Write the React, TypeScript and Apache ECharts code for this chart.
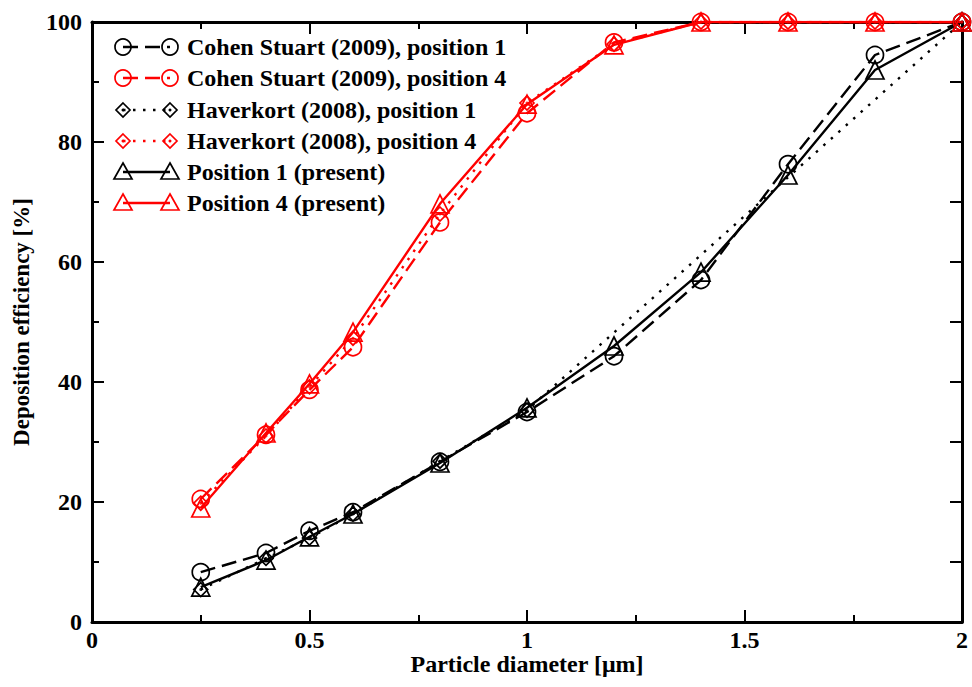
import React, { useEffect, useRef } from "react";
import * as echarts from "echarts";

const diam = [0.25, 0.4, 0.5, 0.6, 0.8, 1.0, 1.2, 1.4, 1.6, 1.8, 2.0];
const cohen1 = [8.3, 11.5, 15.2, 18.3, 26.7, 35.0, 44.3, 57.0, 76.3, 94.5, 100];
const cohen4 = [20.5, 31.2, 38.7, 45.8, 66.6, 84.8, 96.6, 100, 100, 100, 100];
const haverDiam1 = [0.25, 0.4, 0.5, 0.6, 0.8, 1.0, 2.0];
const haver1 = [5.4, 10.6, 14.0, 18.0, 26.8, 35.3, 100];
const haverDiam4 = [0.25, 0.4, 0.5, 0.6, 0.8, 1.0, 1.2, 1.4, 1.6, 1.8, 2.0];
const haver4 = [19.8, 31.0, 39.2, 47.3, 68.0, 86.5, 96.3, 100, 100, 100, 100];
const present1 = [5.8, 10.3, 14.2, 18.0, 26.5, 35.7, 46.0, 58.3, 74.5, 92.0, 100];
const present4 = [19.0, 31.5, 39.7, 48.3, 69.7, 86.3, 96.2, 100, 100, 100, 100];

const legendNames = [
  "Cohen Stuart (2009), position 1",
  "Cohen Stuart (2009), position 4",
  "Haverkort (2008), position 1",
  "Haverkort (2008), position 4",
  "Position 1 (present)",
  "Position 4 (present)",
];
const xTicks = ["0", "0.5", "1", "1.5", "2"];

const FONT = '"Liberation Serif", "Times New Roman", serif';
const RED = "#ff0000";
const BLACK = "#000000";
const DASH = [15, 7];
const DOT = [2.5, 7.5];
const LW = 2.4;

function pairs(xs: number[], ys: number[]) {
  return xs.map((x, i) => [x, ys[i]]);
}

export default function App() {
  const ref = useRef<HTMLDivElement>(null);
  useEffect(() => {
    if (!ref.current) return;
    const chart = echarts.init(ref.current, null, { renderer: "svg" });

    const lineSeries = (
      name: string,
      data: number[][],
      color: string,
      dash: any,
      symbol: string,
      size: number
    ) => ({
      name,
      type: "line",
      data,
      symbol,
      symbolSize: size,
      showSymbol: true,
      lineStyle: { color, width: LW, type: dash },
      itemStyle: { color: "rgba(0,0,0,0)", borderColor: color, borderWidth: 1.7 },
      emphasis: { disabled: true },
      z: 3,
    });

    const dotSeries = (data: number[][], color: string) => ({
      type: "scatter",
      data,
      symbol: "circle",
      symbolSize: 3,
      itemStyle: { color },
      silent: true,
      z: 4,
    });

    const styles = [
      { color: BLACK, dash: DASH, mk: "circle" },
      { color: RED, dash: DASH, mk: "circle" },
      { color: BLACK, dash: DOT, mk: "diamond" },
      { color: RED, dash: DOT, mk: "diamond" },
      { color: BLACK, dash: null, mk: "triangle" },
      { color: RED, dash: null, mk: "triangle" },
    ];
    const rows = [47, 78, 110, 141, 172, 203];
    const lx1 = 123;
    const lx2 = 170;
    const graphics: any[] = [];
    const marker = (mk: string, cx: number, cy: number, color: string) => {
      if (mk === "circle") {
        return [{ type: "circle", shape: { cx, cy, r: 8 }, style: { fill: "none", stroke: color, lineWidth: 1.7 } }];
      }
      if (mk === "diamond") {
        return [
          { type: "polygon", shape: { points: [[cx, cy - 7], [cx + 7, cy], [cx, cy + 7], [cx - 7, cy]] }, style: { fill: "none", stroke: color, lineWidth: 1.7 } },
          { type: "circle", shape: { cx, cy, r: 1.5 }, style: { fill: color } },
        ];
      }
      return [{ type: "polygon", shape: { points: [[cx, cy - 9], [cx + 9, cy + 7], [cx - 9, cy + 7]] }, style: { fill: "none", stroke: color, lineWidth: 1.7 } }];
    };
    styles.forEach((s, i) => {
      const y = rows[i];
      graphics.push({
        type: "line",
        shape: { x1: lx1, y1: y, x2: lx2, y2: y },
        style: { stroke: s.color, lineWidth: LW, lineDash: s.dash || undefined },
      });
      graphics.push(...marker(s.mk, lx1, y, s.color));
      graphics.push(...marker(s.mk, lx2, y, s.color));
      graphics.push({
        type: "text",
        x: 187,
        y,
        style: {
          text: legendNames[i],
          font: `bold 24px ${FONT}`,
          fill: "#000",
          verticalAlign: "middle",
        },
      });
    });

    const axisCommon = {
      min: 0,
      axisLine: { show: true, onZero: false, lineStyle: { color: "#000", width: 3 } },
      splitLine: { show: false },
    };

    chart.setOption({
      animation: false,
      backgroundColor: "#fff",
      grid: { left: 92, right: 10, top: 22, bottom: 65, containLabel: false, outerBoundsMode: "none" },
      xAxis: [
        {
          ...axisCommon,
          type: "value",
          max: 2,
          interval: 0.5,
          position: "bottom",
          name: "Particle diameter [μm]",
          nameLocation: "middle",
          nameGap: 30,
          nameMoveOverlap: false,
          nameTextStyle: { fontFamily: FONT, fontWeight: "bold", fontSize: 24, color: "#000", verticalAlign: "top" },
          axisTick: { inside: true, length: 12, lineStyle: { width: 2, color: "#000" } },
          minorTick: { show: true, splitNumber: 2, length: 7, lineStyle: { width: 2, color: "#000" } },
          minorSplitLine: { show: false },
          axisLabel: {
            fontFamily: FONT,
            fontWeight: "bold",
            fontSize: 24,
            color: "#000",
            margin: 6,
            hideOverlap: false,
            showMaxLabel: true,
            alignMaxLabel: "center",
            formatter: (v: number) => xTicks[Math.round(v / 0.5)] ?? String(v),
          },
        },
        {
          ...axisCommon,
          type: "value",
          max: 2,
          interval: 0.5,
          position: "top",
          axisTick: { inside: true, length: 12, lineStyle: { width: 2, color: "#000" } },
          minorTick: { show: true, splitNumber: 2, length: 7, lineStyle: { width: 2, color: "#000" } },
          axisLabel: { show: false },
        },
      ],
      yAxis: [
        {
          ...axisCommon,
          type: "value",
          max: 100,
          interval: 20,
          position: "left",
          name: "Deposition efficiency [%]",
          nameLocation: "middle",
          nameGap: 59,
          nameMoveOverlap: false,
          nameTextStyle: { fontFamily: FONT, fontWeight: "bold", fontSize: 23, color: "#000" },
          axisTick: { inside: true, length: 12, lineStyle: { width: 2, color: "#000" } },
          minorTick: { show: true, splitNumber: 2, length: 7, lineStyle: { width: 2, color: "#000" } },
          axisLabel: { fontFamily: FONT, fontWeight: "bold", fontSize: 24, color: "#000", margin: 10 },
        },
        {
          ...axisCommon,
          type: "value",
          max: 100,
          interval: 20,
          position: "right",
          axisTick: { inside: true, length: 12, lineStyle: { width: 2, color: "#000" } },
          minorTick: { show: true, splitNumber: 2, length: 12, lineStyle: { width: 2, color: "#000" } },
          axisLabel: { show: false },
        },
      ],
      series: [
        lineSeries(legendNames[0], pairs(diam, cohen1), BLACK, DASH, "circle", 17),
        lineSeries(legendNames[1], pairs(diam, cohen4), RED, DASH, "circle", 17),
        lineSeries(legendNames[2], pairs(haverDiam1, haver1), BLACK, DOT, "diamond", 14),
        dotSeries(pairs(haverDiam1, haver1), BLACK),
        lineSeries(legendNames[3], pairs(haverDiam4, haver4), RED, DOT, "diamond", 14),
        dotSeries(pairs(haverDiam4, haver4), RED),
        lineSeries(legendNames[4], pairs(diam, present1), BLACK, "solid", "triangle", 18),
        lineSeries(legendNames[5], pairs(diam, present4), RED, "solid", "triangle", 18),
      ],
      graphic: graphics,
    });
    return () => chart.dispose();
  }, []);
  return <div ref={ref} style={{ position: "fixed", left: 0, top: 0, width: 972, height: 687 }} />;
}
